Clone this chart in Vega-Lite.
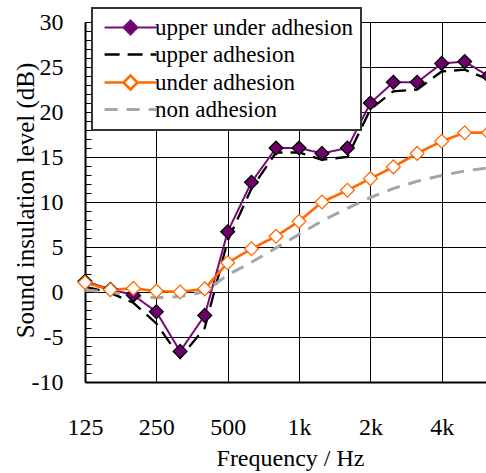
{
  "$schema": "https://vega.github.io/schema/vega-lite/v6.json",
  "width": 401,
  "height": 360,
  "autosize": "none",
  "padding": {"left": 85, "top": 22, "right": 0, "bottom": 91},
  "background": "white",
  "config": {
    "view": {"stroke": null},
    "font": "Liberation Serif, Times New Roman, serif",
    "axis": {
      "labelFont": "Liberation Serif, Times New Roman, serif",
      "titleFont": "Liberation Serif, Times New Roman, serif",
      "labelColor": "black",
      "titleColor": "black",
      "titleFontWeight": "normal",
      "domainColor": "black",
      "domainWidth": 2,
      "gridColor": "black",
      "gridWidth": 1
    }
  },
  "data": {
    "values": [
      {"freq": 125, "series": "upper under adhesion", "level": 1.2},
      {"freq": 160, "series": "upper under adhesion", "level": 0.3},
      {"freq": 200, "series": "upper under adhesion", "level": -0.35},
      {"freq": 250, "series": "upper under adhesion", "level": -2.2},
      {"freq": 315, "series": "upper under adhesion", "level": -6.6},
      {"freq": 400, "series": "upper under adhesion", "level": -2.6},
      {"freq": 500, "series": "upper under adhesion", "level": 6.7},
      {"freq": 630, "series": "upper under adhesion", "level": 12.2},
      {"freq": 800, "series": "upper under adhesion", "level": 16.0},
      {"freq": 1000, "series": "upper under adhesion", "level": 16.0},
      {"freq": 1250, "series": "upper under adhesion", "level": 15.4},
      {"freq": 1600, "series": "upper under adhesion", "level": 16.0},
      {"freq": 2000, "series": "upper under adhesion", "level": 21.0},
      {"freq": 2500, "series": "upper under adhesion", "level": 23.3},
      {"freq": 3150, "series": "upper under adhesion", "level": 23.3},
      {"freq": 4000, "series": "upper under adhesion", "level": 25.4},
      {"freq": 5000, "series": "upper under adhesion", "level": 25.6},
      {"freq": 6300, "series": "upper under adhesion", "level": 24.0},

      {"freq": 125, "series": "upper adhesion", "level": 0.6},
      {"freq": 160, "series": "upper adhesion", "level": -0.1},
      {"freq": 200, "series": "upper adhesion", "level": -1.2},
      {"freq": 250, "series": "upper adhesion", "level": -3.5},
      {"freq": 315, "series": "upper adhesion", "level": -7.3},
      {"freq": 400, "series": "upper adhesion", "level": -4.0},
      {"freq": 500, "series": "upper adhesion", "level": 5.7},
      {"freq": 630, "series": "upper adhesion", "level": 11.5},
      {"freq": 800, "series": "upper adhesion", "level": 15.5},
      {"freq": 1000, "series": "upper adhesion", "level": 15.5},
      {"freq": 1250, "series": "upper adhesion", "level": 14.7},
      {"freq": 1600, "series": "upper adhesion", "level": 15.0},
      {"freq": 2000, "series": "upper adhesion", "level": 20.3},
      {"freq": 2500, "series": "upper adhesion", "level": 22.3},
      {"freq": 3150, "series": "upper adhesion", "level": 22.5},
      {"freq": 4000, "series": "upper adhesion", "level": 24.5},
      {"freq": 5000, "series": "upper adhesion", "level": 24.7},
      {"freq": 6300, "series": "upper adhesion", "level": 23.6},

      {"freq": 125, "series": "under adhesion", "level": 1.05},
      {"freq": 160, "series": "under adhesion", "level": 0.25},
      {"freq": 200, "series": "under adhesion", "level": 0.4},
      {"freq": 250, "series": "under adhesion", "level": 0.1},
      {"freq": 315, "series": "under adhesion", "level": 0.0},
      {"freq": 400, "series": "under adhesion", "level": 0.35},
      {"freq": 500, "series": "under adhesion", "level": 3.25},
      {"freq": 630, "series": "under adhesion", "level": 4.8},
      {"freq": 800, "series": "under adhesion", "level": 6.2},
      {"freq": 1000, "series": "under adhesion", "level": 7.85},
      {"freq": 1250, "series": "under adhesion", "level": 10.0},
      {"freq": 1600, "series": "under adhesion", "level": 11.3},
      {"freq": 2000, "series": "under adhesion", "level": 12.6},
      {"freq": 2500, "series": "under adhesion", "level": 13.9},
      {"freq": 3150, "series": "under adhesion", "level": 15.4},
      {"freq": 4000, "series": "under adhesion", "level": 16.75},
      {"freq": 5000, "series": "under adhesion", "level": 17.7},
      {"freq": 6300, "series": "under adhesion", "level": 17.7},

      {"freq": 125, "series": "non adhesion", "level": 0.2},
      {"freq": 160, "series": "non adhesion", "level": 0.0},
      {"freq": 200, "series": "non adhesion", "level": -0.5},
      {"freq": 250, "series": "non adhesion", "level": -0.65},
      {"freq": 315, "series": "non adhesion", "level": -0.5},
      {"freq": 400, "series": "non adhesion", "level": 0.05},
      {"freq": 500, "series": "non adhesion", "level": 1.9},
      {"freq": 630, "series": "non adhesion", "level": 3.3},
      {"freq": 800, "series": "non adhesion", "level": 4.9},
      {"freq": 1000, "series": "non adhesion", "level": 6.4},
      {"freq": 1250, "series": "non adhesion", "level": 7.9},
      {"freq": 1600, "series": "non adhesion", "level": 9.3},
      {"freq": 2000, "series": "non adhesion", "level": 10.5},
      {"freq": 2500, "series": "non adhesion", "level": 11.5},
      {"freq": 3150, "series": "non adhesion", "level": 12.3},
      {"freq": 4000, "series": "non adhesion", "level": 12.95},
      {"freq": 5000, "series": "non adhesion", "level": 13.45},
      {"freq": 6300, "series": "non adhesion", "level": 13.8}
    ]
  },
  "encoding": {
    "x": {
      "field": "freq",
      "type": "quantitative",
      "scale": {"type": "log", "domain": [125, 6150], "nice": false},
      "axis": {
        "values": [125, 250, 500, 1000, 2000, 4000],
        "labelExpr": "datum.value >= 1000 ? (datum.value / 1000) + 'k' : '' + datum.value",
        "title": "Frequency / Hz",
        "grid": true,
        "ticks": false,
        "labelOverlap": false,
        "labelFlush": false,
        "labelFontSize": 24,
        "labelBaseline": "alphabetic",
        "labelPadding": 52,
        "titleFontSize": 24,
        "titleX": 205,
        "titleY": 83,
        "titleBaseline": "alphabetic"
      }
    },
    "y": {
      "field": "level",
      "type": "quantitative",
      "scale": {"domain": [-10, 30], "nice": false, "zero": false},
      "axis": {
        "values": [-10, -9, -8, -7, -6, -5, -4, -3, -2, -1, 0, 1, 2, 3, 4, 5, 6, 7, 8, 9, 10, 11, 12, 13, 14, 15, 16, 17, 18, 19, 20, 21, 22, 23, 24, 25, 26, 27, 28, 29, 30],
        "labelExpr": "datum.value % 5 == 0 ? '' + datum.value : ''",
        "title": "Sound insulation level (dB)",
        "grid": true,
        "gridOpacity": {"condition": {"test": "datum.value % 5 == 0 && datum.value > -10", "value": 1}, "value": 0},
        "tickSize": -6,
        "tickColor": "black",
        "tickWidth": 1,
        "labelFontSize": 24,
        "labelPadding": 28,
        "labelOverlap": false,
        "labelFlush": false,
        "titleFontSize": 25,
        "titleAngle": -90,
        "titleX": -52,
        "titleY": 178,
        "titleAlign": "center",
        "titleBaseline": "alphabetic"
      }
    }
  },
  "layer": [
    {
      "mark": {"type": "line"},
      "encoding": {
        "color": {
          "field": "series",
          "type": "nominal",
          "scale": {
            "domain": ["upper under adhesion", "upper adhesion", "under adhesion", "non adhesion"],
            "range": ["#7a0a7a", "#000000", "#ff6a00", "#a6a6a6"]
          },
          "legend": {
            "orient": "none",
            "legendX": 7,
            "legendY": -14,
            "title": null,
            "labelFont": "Liberation Serif, Times New Roman, serif",
            "labelFontSize": 23,
            "labelColor": "black",
            "labelLimit": 400,
            "labelOffset": 13,
            "symbolSize": 196,
            "symbolOffset": 19,
            "symbolStrokeWidth": 2.5,
            "rowPadding": 3,
            "padding": 8,
            "fillColor": "white",
            "strokeColor": "#333333",
            "encoding": {
              "legend": {"strokeWidth": {"value": 2}},
              "symbols": {
                "shape": {
                  "condition": {"test": "datum.value === 'upper under adhesion' || datum.value === 'under adhesion'", "value": "M-3.7,0L-1,0M1,0L3.7,0M0,-1L1,0L0,1L-1,0Z"},
                  "value": "M-3.7,0L3.7,0"
                },
                "fill": {
                  "condition": [
                    {"test": "datum.value === 'upper under adhesion'", "value": "#6e006e"},
                    {"test": "datum.value === 'under adhesion'", "value": "#ffffff"}
                  ],
                  "value": "transparent"
                },
                "strokeDash": {
                  "condition": {"test": "datum.value === 'upper adhesion' || datum.value === 'non adhesion'", "value": [17, 11]},
                  "value": [1, 0]
                },
                "strokeWidth": {
                  "condition": {"test": "datum.value === 'upper adhesion' || datum.value === 'non adhesion'", "value": 3},
                  "value": 2
                },
                "opacity": {"value": 1}
              }
            }
          }
        },
        "strokeDash": {
          "field": "series",
          "type": "nominal",
          "scale": {
            "domain": ["upper under adhesion", "upper adhesion", "under adhesion", "non adhesion"],
            "range": [[1, 0], [15, 8], [1, 0], [13, 9]]
          },
          "legend": null
        },
        "strokeWidth": {
          "field": "series",
          "type": "nominal",
          "scale": {
            "domain": ["upper under adhesion", "upper adhesion", "under adhesion", "non adhesion"],
            "range": [2, 3, 2.5, 3]
          },
          "legend": null
        }
      }
    },
    {
      "transform": [{"filter": "datum.series === 'upper under adhesion' || datum.series === 'under adhesion'"}],
      "mark": {"type": "point", "shape": "diamond", "filled": true, "size": 190, "opacity": 1, "strokeWidth": 1.3},
      "encoding": {
        "fill": {
          "field": "series",
          "type": "nominal",
          "scale": {"domain": ["upper under adhesion", "under adhesion"], "range": ["#6e006e", "#ffffff"]},
          "legend": null
        },
        "stroke": {
          "field": "series",
          "type": "nominal",
          "scale": {"domain": ["upper under adhesion", "under adhesion"], "range": ["#000000", "#ff6a00"]},
          "legend": null
        }
      }
    }
  ]
}
